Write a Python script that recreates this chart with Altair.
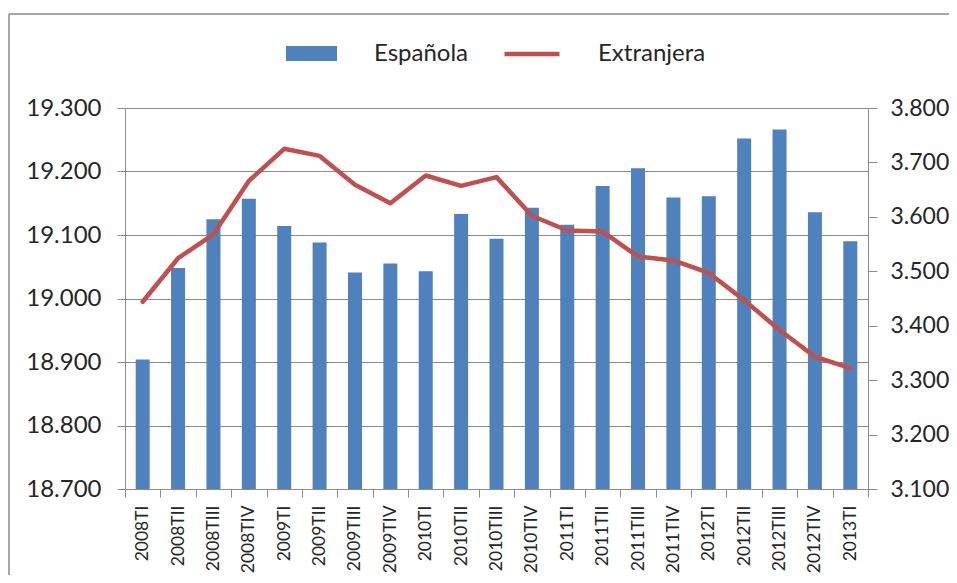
import altair as alt
import pandas as pd

quarters = ["2008TI", "2008TII", "2008TIII", "2008TIV", "2009TI", "2009TII", "2009TIII", "2009TIV",
            "2010TI", "2010TII", "2010TIII", "2010TIV", "2011TI", "2011TII", "2011TIII", "2011TIV",
            "2012TI", "2012TII", "2012TIII", "2012TIV", "2013TI"]
espanola = [18904, 19048, 19125, 19157, 19114, 19088, 19041, 19055, 19043, 19133, 19094,
            19143, 19116, 19177, 19205, 19159, 19161, 19252, 19266, 19136, 19090]
extranjera = [3444, 3524, 3568, 3666, 3725, 3712, 3659, 3625, 3676, 3657, 3673,
              3602, 3575, 3573, 3527, 3520, 3497, 3447, 3392, 3343, 3322]

df = pd.DataFrame({"trimestre": quarters, "esp": espanola, "ext": extranjera})

FONT = "Lato"
GRID = "#8c8c8c"
TXT = "#262626"
fmt = "replace(format(datum.value, ','), ',', '.')"

x = alt.X("trimestre:N", sort=quarters, title=None,
          scale=alt.Scale(paddingInner=0, paddingOuter=0),
          axis=alt.Axis(labelAngle=-90, labelFontSize=17.5, labelFont=FONT, labelColor=TXT,
                        tickBand="extent", tickSize=8, tickColor=GRID, domainColor=GRID,
                        labelPadding=8, labelBaseline="middle"))

base = alt.Chart(df)

bars = base.transform_calculate(serie="'Española'").mark_bar(size=14, clip=True).encode(
    x=x,
    y=alt.Y("esp:Q", title=None,
            scale=alt.Scale(domain=[18700, 19300], zero=False, nice=False),
            axis=alt.Axis(values=[18700, 18800, 18900, 19000, 19100, 19200, 19300],
                          labelExpr=fmt, labelFontSize=24, labelFont=FONT, labelColor=TXT,
                          grid=True, gridColor=GRID, tickSize=8, tickColor=GRID,
                          domainColor=GRID, labelPadding=16, orient="left")),
    y2=alt.datum(18700),
    fill=alt.Fill("serie:N", scale=alt.Scale(domain=["Española"], range=["#4F81BD"]),
                  legend=alt.Legend(title=None, orient="none", legendX=161, legendY=-80,
                                    symbolType="M-1,-0.294H1V0.294H-1Z", symbolSize=2601,
                                    symbolStrokeWidth=0, labelFont=FONT, labelFontSize=24,
                                    labelColor=TXT, labelOffset=37, padding=0)),
)

line = base.transform_calculate(serie="'Extranjera'").mark_line(strokeWidth=4.5, strokeCap="round",
                                                                  strokeJoin="round").encode(
    x=x,
    y=alt.Y("ext:Q", title=None,
            scale=alt.Scale(domain=[3100, 3800], zero=False, nice=False),
            axis=alt.Axis(values=[3100, 3200, 3300, 3400, 3500, 3600, 3700, 3800],
                          labelExpr=fmt, labelFontSize=23, labelFont=FONT, labelColor=TXT,
                          grid=False, tickSize=9, tickColor=GRID, domainColor=GRID,
                          labelPadding=13, orient="right")),
    stroke=alt.Stroke("serie:N", scale=alt.Scale(domain=["Extranjera"], range=["#C0504D"]),
                      legend=alt.Legend(title=None, orient="none", legendX=377, legendY=-84,
                                        symbolType="stroke", symbolSize=3025, symbolStrokeWidth=4.5,
                                        labelFont=FONT, labelFontSize=24, labelColor=TXT,
                                        labelOffset=36, padding=0)),
)

frame_df = pd.DataFrame({"k": [0]})
top_border = alt.Chart(frame_df).mark_rule(color="#8a8a8a", strokeWidth=1.5).encode(
    x=alt.value(-116), x2=alt.value(824), y=alt.value(-94))
left_border = alt.Chart(frame_df).mark_rule(color="#8a8a8a", strokeWidth=1.5).encode(
    x=alt.value(-116), y=alt.value(-94), y2=alt.value(480))

chart = alt.layer(top_border, left_border, bars, line).resolve_scale(
    y="independent", fill="independent", stroke="independent"
).properties(
    width=743, height=381,
    autosize=alt.AutoSizeParams(type="none"),
    padding={"left": 117, "top": 100, "right": 81, "bottom": 86},
    background="white",
).configure_view(stroke=None)

chart.save("out.html", embed_options={"renderer": "svg", "actions": False})
